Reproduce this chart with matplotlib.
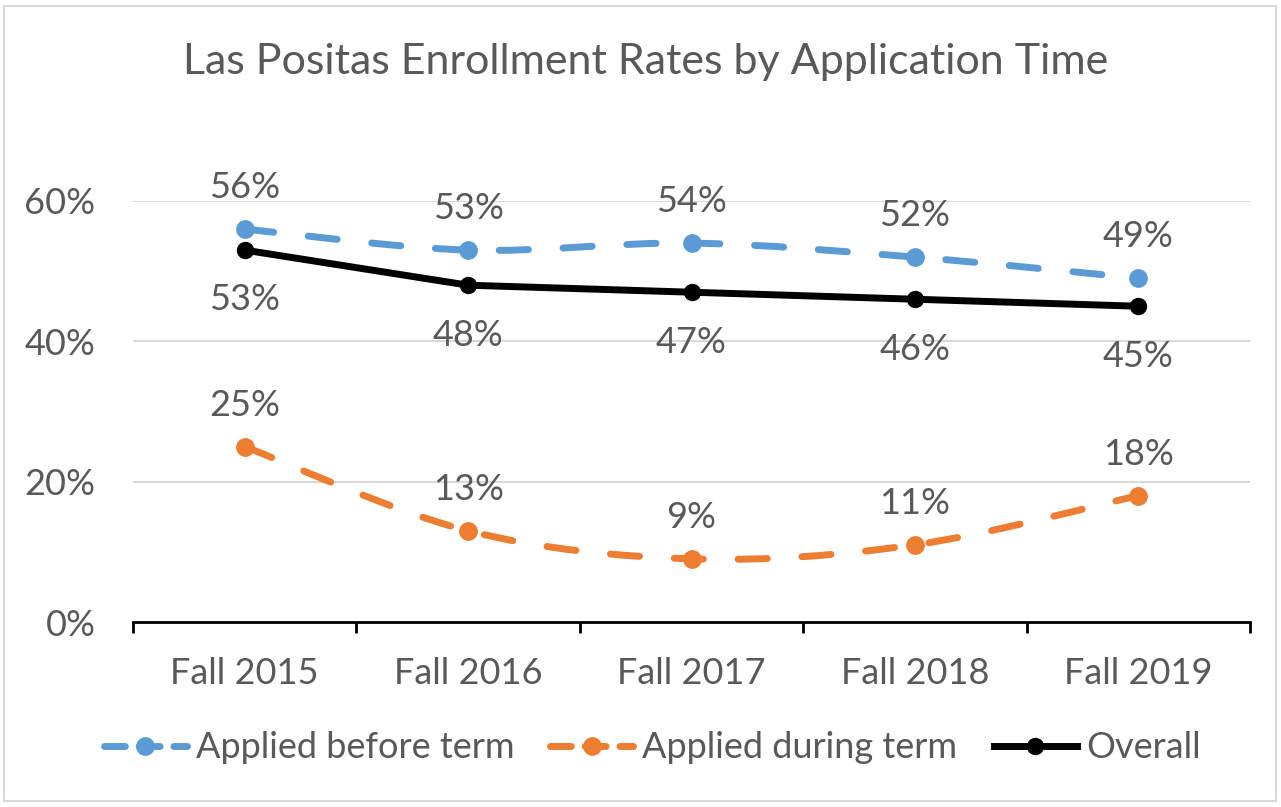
import matplotlib
matplotlib.use("Agg")
import matplotlib.pyplot as plt
from matplotlib.path import Path
from matplotlib.patches import PathPatch, Rectangle
from matplotlib.lines import Line2D
from matplotlib.ticker import FuncFormatter, MultipleLocator

categories = ["Fall 2015", "Fall 2016", "Fall 2017", "Fall 2018", "Fall 2019"]
before_term = [0.56, 0.53, 0.54, 0.52, 0.49]
during_term = [0.25, 0.13, 0.09, 0.11, 0.18]
overall = [0.53, 0.48, 0.47, 0.46, 0.45]

BLUE = "#5B9BD5"
ORANGE = "#ED7D31"
BLACK = "#000000"
TXT = "#595959"

plt.rcParams["font.family"] = ["Lato", "DejaVu Sans"]

fig = plt.figure(figsize=(12.81, 8.07), dpi=100)
ax = fig.add_axes([133 / 1281, 1 - 622 / 807, (1250 - 133) / 1281, (622 - 201) / 807])

x = list(range(len(categories)))


def smooth_path(xs, ys):
    n = len(xs)
    verts = [(xs[0], ys[0])]
    codes = [Path.MOVETO]
    for i in range(n - 1):
        i0 = max(i - 1, 0)
        i3 = min(i + 2, n - 1)
        c1 = (xs[i] + (xs[i + 1] - xs[i0]) / 6, ys[i] + (ys[i + 1] - ys[i0]) / 6)
        c2 = (xs[i + 1] - (xs[i3] - xs[i]) / 6, ys[i + 1] - (ys[i3] - ys[i]) / 6)
        verts += [c1, c2, (xs[i + 1], ys[i + 1])]
        codes += [Path.CURVE4] * 3
    return Path(verts, codes)


lw = 5.0
ms = 12.5
dash = (0, (4.2, 5.0))
for ys, col in [(before_term, BLUE), (during_term, ORANGE)]:
    p = PathPatch(smooth_path(x, ys), facecolor="none", edgecolor=col, lw=lw,
                  linestyle=dash, capstyle="round", joinstyle="round", zorder=3)
    ax.add_patch(p)
    ax.plot(x, ys, linestyle="none", marker="o", markersize=ms, color=col, zorder=4)

ax.plot(x, overall, color=BLACK, lw=lw, marker="o", markersize=ms - 1, zorder=5,
        solid_capstyle="round")

fs = 26
for xi, v in zip(x, before_term):
    ax.annotate(f"{round(v*100)}%", (xi, v), xytext=(0, 18), textcoords="offset points",
                ha="center", va="bottom", fontsize=fs, color=TXT)
for xi, v in zip(x, during_term):
    ax.annotate(f"{round(v*100)}%", (xi, v), xytext=(0, 18), textcoords="offset points",
                ha="center", va="bottom", fontsize=fs, color=TXT)
for xi, v in zip(x, overall):
    ax.annotate(f"{round(v*100)}%", (xi, v), xytext=(0, -24), textcoords="offset points",
                ha="center", va="top", fontsize=fs, color=TXT)

ax.set_xlim(-0.5, len(categories) - 0.5)
ax.set_ylim(0, 0.6)
ax.yaxis.set_major_locator(MultipleLocator(0.2))
ax.yaxis.set_major_formatter(FuncFormatter(lambda v, _: f"{round(v*100)}%"))
ax.grid(axis="y", color="#D9D9D9", lw=1.5, zorder=0)
ax.set_axisbelow(True)
for s in ["top", "right", "left"]:
    ax.spines[s].set_visible(False)
ax.spines["bottom"].set_color(BLACK)
ax.spines["bottom"].set_linewidth(2)
ax.spines["bottom"].set_zorder(2)
ax.set_xticks([i - 0.5 for i in range(len(categories) + 1)], minor=False)
ax.set_xticklabels([])
ax.set_xticks(x, minor=True)
ax.set_xticklabels(categories, minor=True)
ax.tick_params(axis="x", which="major", length=8, width=2, color=BLACK, direction="out")
ax.tick_params(axis="x", which="minor", length=0, pad=25, labelsize=fs, labelcolor=TXT)
ax.tick_params(axis="y", length=0, pad=27, labelsize=fs, labelcolor=TXT)

fig.text(646 / 1281, 1 - 62 / 807, "Las Positas Enrollment Rates by Application Time",
         ha="center", va="center", fontsize=31, color=TXT)

handles = [
    Line2D([], [], color=BLUE, lw=lw, linestyle=(0, (3.0, 2.0)), marker="o", markersize=ms,
           dash_capstyle="round"),
    Line2D([], [], color=ORANGE, lw=lw, linestyle=(0, (3.0, 2.0)), marker="o", markersize=ms,
           dash_capstyle="round"),
    Line2D([], [], color=BLACK, lw=lw, marker="o", markersize=ms - 1),
]
fig.legend(handles, ["Applied before term", "Applied during term", "Overall"],
           loc="center", bbox_to_anchor=(652 / 1281, 1 - 748 / 807), ncol=3, frameon=False,
           fontsize=fs, labelcolor=TXT, handlelength=2.3, handletextpad=0.25, columnspacing=1.0)

fig.add_artist(Rectangle((4 / 1281, 6 / 807), 1272 / 1281, 795 / 807, transform=fig.transFigure,
                         fill=False, edgecolor="#D9D9D9", lw=1.5))

fig.savefig("out.png", dpi=100, facecolor="white")
